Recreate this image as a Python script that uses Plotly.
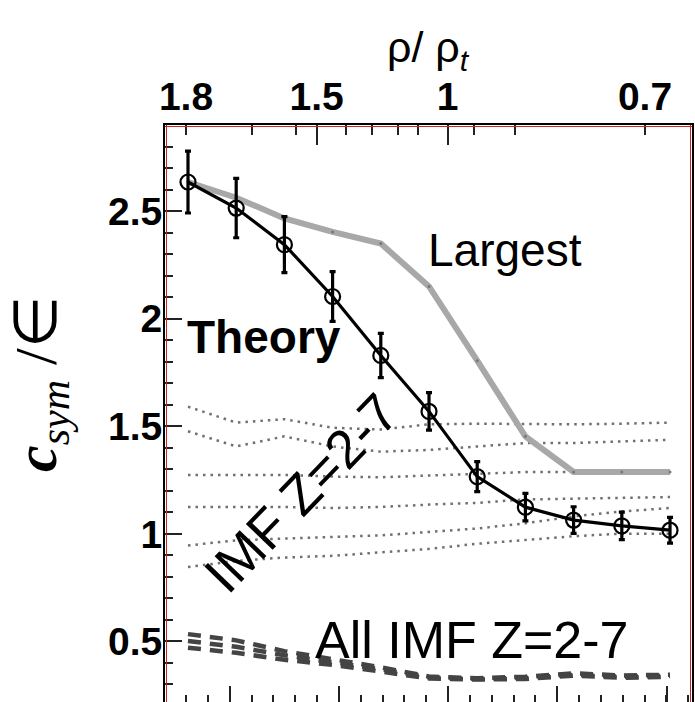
import plotly.graph_objects as go

# ---------------- data ----------------
point_index = [0, 1, 2, 3, 4, 5, 6, 7, 8, 9, 10]

theory = [2.635, 2.514, 2.344, 2.103, 1.829, 1.569, 1.266, 1.124, 1.064, 1.037, 1.017]
theory_err = [0.144, 0.138, 0.130, 0.116, 0.103, 0.087, 0.070, 0.064, 0.062, 0.064, 0.060]

largest = [2.635, 2.562, 2.466, 2.403, 2.349, 2.150, 1.805, 1.453, 1.288, 1.288, 1.288]

imf_dotted = [
    [1.591, 1.517, 1.533, 1.493, 1.485, 1.509, 1.512, 1.509, 1.509, 1.512, 1.517],
    [1.477, 1.406, 1.453, 1.406, 1.382, 1.390, 1.406, 1.422, 1.422, 1.430, 1.437],
    [1.274, 1.274, 1.274, 1.266, 1.263, 1.271, 1.279, 1.287, 1.287, 1.290, 1.290],
    [1.125, 1.125, 1.125, 1.120, 1.125, 1.136, 1.144, 1.160, 1.163, 1.168, 1.171],
    [0.946, 0.970, 0.978, 0.985, 0.993, 1.009, 1.025, 1.049, 1.081, 1.104, 1.120],
    [0.846, 0.874, 0.890, 0.898, 0.914, 0.930, 0.954, 0.970, 0.989, 1.001, 1.001],
]

all_imf_dashed = [
    [0.534, 0.505, 0.455, 0.418, 0.380, 0.337, 0.329, 0.336, 0.352, 0.342, 0.345],
    [0.502, 0.475, 0.436, 0.404, 0.371, 0.333, 0.326, 0.331, 0.345, 0.336, 0.341],
    [0.471, 0.447, 0.415, 0.391, 0.360, 0.328, 0.323, 0.326, 0.341, 0.331, 0.336],
]

rho_tick_labels = ["1.8", "1.5", "1", "0.7"]
y_tick_values = [0.5, 1.0, 1.5, 2.0, 2.5]
y_tick_labels = ["0.5", "1", "1.5", "2", "2.5"]

# ---------------- axis geometry (in point-index units) ----------------
X_RANGE = [-0.477, 10.456]
Y_RANGE = [0.2186, 2.9]
rho_label_pos = [-0.0415, 2.670, 5.388, 9.481]
rho_long_pos = [2.670, 5.388]
rho_minor_pos = [1.322, 2.234, 3.272, 3.811, 4.363, 4.778, 5.940, 6.784]

W, H = 695, 702
ML, MR, MT, MB = 165, 3, 125, 0
PW, PH = W - ML - MR, H - MT - MB


def px(xp):
    return (xp - ML) / PW


def py(yp):
    return (H - MB - yp) / PH


fig = go.Figure()

for series in imf_dotted:
    fig.add_trace(go.Scatter(x=point_index, y=series, mode="lines",
                             line=dict(color="#707070", width=2.5, dash="2.5px,5px"),
                             showlegend=False, hoverinfo="skip"))

for series in all_imf_dashed:
    fig.add_trace(go.Scatter(x=point_index, y=series, mode="lines",
                             line=dict(color="#444444", width=4.5, dash="13px,9px"),
                             showlegend=False, hoverinfo="skip"))

fig.add_trace(go.Scatter(x=point_index, y=largest, mode="lines+markers",
                         line=dict(color="#a8a8a8", width=6),
                         marker=dict(size=3, color="#777777"),
                         showlegend=False, hoverinfo="skip"))

fig.add_trace(go.Scatter(x=point_index, y=theory, mode="lines+markers",
                         line=dict(color="black", width=3.2),
                         marker=dict(symbol="circle-open", size=15, color="black",
                                     line=dict(width=2.2, color="black")),
                         error_y=dict(type="data", array=theory_err, visible=True,
                                      color="black", thickness=3.2, width=3),
                         showlegend=False, hoverinfo="skip"))

# invisible traces on the top axes
fig.add_trace(go.Scatter(x=[X_RANGE[0]], y=[Y_RANGE[0]], xaxis="x2", mode="markers",
                         marker=dict(opacity=0), showlegend=False, hoverinfo="skip"))
fig.add_trace(go.Scatter(x=[X_RANGE[0]], y=[Y_RANGE[0]], xaxis="x3", mode="markers",
                         marker=dict(opacity=0), showlegend=False, hoverinfo="skip"))

tick_font = dict(family="Liberation Sans", size=39, color="black")

fig.update_layout(
    width=W, height=H,
    margin=dict(l=ML, r=MR, t=MT, b=MB, pad=0),
    paper_bgcolor="white", plot_bgcolor="white",
    showlegend=False,
    xaxis=dict(range=X_RANGE, showgrid=False, zeroline=False, showline=False,
               ticks="inside", ticklen=16, tickwidth=2, tickcolor="#222",
               tickmode="linear", tick0=0.8647, dtick=2.2656,
               showticklabels=False,
               minor=dict(ticks="inside", ticklen=7, tickwidth=2, tickcolor="#222",
                          tickmode="linear", tick0=-0.0415, dtick=0.4531)),
    xaxis2=dict(range=X_RANGE, overlaying="x", side="top", showgrid=False,
                zeroline=False, showline=True, linecolor="black", linewidth=2,
                ticks="inside", ticklen=10, tickwidth=2, tickcolor="#222",
                tickmode="array", tickvals=rho_label_pos,
                ticktext=["<b>%s</b>" % t for t in rho_tick_labels],
                tickfont=tick_font, ticklabelstandoff=-3,
                minor=dict(ticks="inside", ticklen=10, tickwidth=2, tickcolor="#222",
                           tickmode="array", tickvals=rho_minor_pos)),
    xaxis3=dict(range=X_RANGE, overlaying="x", side="top", showgrid=False,
                zeroline=False, showline=False,
                ticks="inside", ticklen=20, tickwidth=2, tickcolor="#222",
                tickmode="array", tickvals=rho_long_pos, showticklabels=False),
    yaxis=dict(range=Y_RANGE, showgrid=False, zeroline=False, showline=True,
               linecolor="black", linewidth=2, mirror=True,
               ticks="inside", ticklen=17, tickwidth=2, tickcolor="#222",
               tickmode="array", tickvals=y_tick_values,
               ticktext=["<b>%s</b>" % t for t in y_tick_labels],
               tickfont=tick_font, ticklabelstandoff=-7,
               minor=dict(ticks="inside", ticklen=8, tickwidth=2, tickcolor="#222",
                          tickmode="linear", tick0=0.2, dtick=0.1)),
)

# thin red inner frame
red = dict(color="#d02020", width=1)
fig.add_shape(type="line", xref="paper", yref="paper", xsizemode="pixel", xanchor=0,
              x0=1.5, x1=1.5, y0=0, y1=1, line=red)
fig.add_shape(type="line", xref="paper", yref="paper", xsizemode="pixel", xanchor=1,
              x0=-1.5, x1=-1.5, y0=0, y1=1, line=red)
fig.add_shape(type="line", xref="paper", yref="paper", ysizemode="pixel", yanchor=1,
              y0=-1.5, y1=-1.5, x0=0, x1=1, line=red)

ann = []
ann.append(dict(text="ρ/ ρ<sub><i>t</i></sub>", x=px(428), y=py(50),
                font=dict(family="Liberation Sans", size=43, color="black")))
ann.append(dict(text="<b><i>c</i></b><i><sub>sym</sub></i> /∈",
                x=px(40), y=py(384),
                textangle=-90, font=dict(family="Liberation Serif", size=60, color="black")))
ann.append(dict(text="Largest", x=px(505), y=py(250),
                font=dict(family="Liberation Sans", size=46, color="black")))
ann.append(dict(text="<b>Theory</b>", x=px(264), y=py(337),
                font=dict(family="Liberation Sans", size=46, color="black")))
ann.append(dict(text="IMF Z=2-7", x=px(301), y=py(493), textangle=-46,
                font=dict(family="Liberation Sans", size=54, color="black")))
ann.append(dict(text="All IMF Z=2-7", x=px(472), y=py(640),
                font=dict(family="Liberation Sans", size=52, color="black")))
for a in ann:
    a.update(xref="paper", yref="paper", showarrow=False, xanchor="center", yanchor="middle")
fig.update_layout(annotations=ann)

fig.write_html("out.html")
